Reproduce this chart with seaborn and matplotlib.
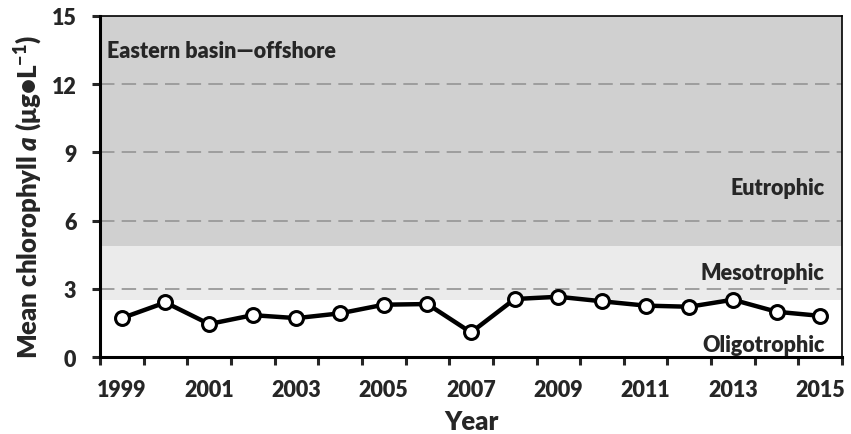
import pandas as pd
import seaborn as sns
import matplotlib.pyplot as plt
import matplotlib.ticker as mticker

sns.set_style('white')
plt.rcParams['font.family'] = ['Lato', 'DejaVu Sans']
plt.rcParams['font.weight'] = 'heavy'
plt.rcParams['axes.labelweight'] = 'heavy'
plt.rcParams['mathtext.fontset'] = 'custom'
plt.rcParams['mathtext.rm'] = 'Lato:heavy'
plt.rcParams['mathtext.bf'] = 'Lato:heavy'
plt.rcParams['mathtext.it'] = 'Lato:heavy:italic'
plt.rcParams['mathtext.bfit'] = 'Lato:heavy:italic'

years = list(range(1999, 2016))
chl = [1.71, 2.40, 1.45, 1.84, 1.71, 1.92, 2.30, 2.33, 1.08,
       2.55, 2.65, 2.45, 2.26, 2.21, 2.52, 1.99, 1.81]

# trophic state bands (lower, upper, colour)
bands = [(0, 2.5, 'white'), (2.5, 4.9, '#ebebeb'), (4.9, 15, '#d0d0d0')]
band_labels = ['Oligotrophic', 'Mesotrophic', 'Eutrophic']
band_label_y = [0.55, 3.7, 7.45]

df = pd.DataFrame({'Year': years, 'chl': chl})

fig = plt.figure(figsize=(8.51, 4.35), dpi=100)
ax = fig.add_axes([0.1175, 0.177, 0.872, 0.784])

for lo, hi, c in bands:
    ax.axhspan(lo, hi, color=c, zorder=0, lw=0)
for g in [3, 6, 9, 12]:
    ax.axhline(g, color='#999999', lw=1.3, ls=(0, (8, 4)), zorder=1)

sns.lineplot(data=df, x='Year', y='chl', ax=ax, color='black', lw=3.2,
             marker='o', markersize=10, markerfacecolor='white',
             markeredgecolor='black', markeredgewidth=2.2, zorder=3)

ax.set_xlim(1998.5, 2015.5)
ax.set_ylim(0, 15)
ax.set_yticks([0, 3, 6, 9, 12, 15])
ax.xaxis.set_major_locator(mticker.FixedLocator([y - 0.5 for y in years] + [2015.5]))
ax.xaxis.set_major_formatter(mticker.NullFormatter())
ax.xaxis.set_minor_locator(mticker.FixedLocator(years[::2]))
ax.xaxis.set_minor_formatter(mticker.FixedFormatter([str(y) for y in years[::2]]))
ax.tick_params(axis='x', which='major', direction='out', length=6, width=2.2, bottom=True)
ax.tick_params(axis='x', which='minor', length=0, pad=16, labelsize=15.5)
ax.tick_params(axis='y', direction='out', length=6, width=2.2, left=True, labelsize=15.5, pad=11)

for s in ['left', 'bottom']:
    ax.spines[s].set_linewidth(2.2)
    ax.spines[s].set_color('black')
for s in ['right', 'top']:
    ax.spines[s].set_linewidth(1.2)
    ax.spines[s].set_color('black')

ax.set_xlabel('Year', fontsize=18.5, labelpad=6)
ax.set_ylabel(r'Mean chlorophyll $\mathbfit{a}$ ($\mathbf{\mu}$g•L$^{\mathbf{-1}}$)',
              fontsize=18.5)
ax.yaxis.set_label_coords(-0.074, 0.473)

ax.text(0.01, 0.9, 'Eastern basin—offshore', transform=ax.transAxes,
        fontsize=15.5, va='center', ha='left')
for lab, yv in zip(band_labels, band_label_y):
    ax.text(2015.1, yv, lab, fontsize=15.5, ha='right', va='center')

fig.savefig('out.png', dpi=100)
